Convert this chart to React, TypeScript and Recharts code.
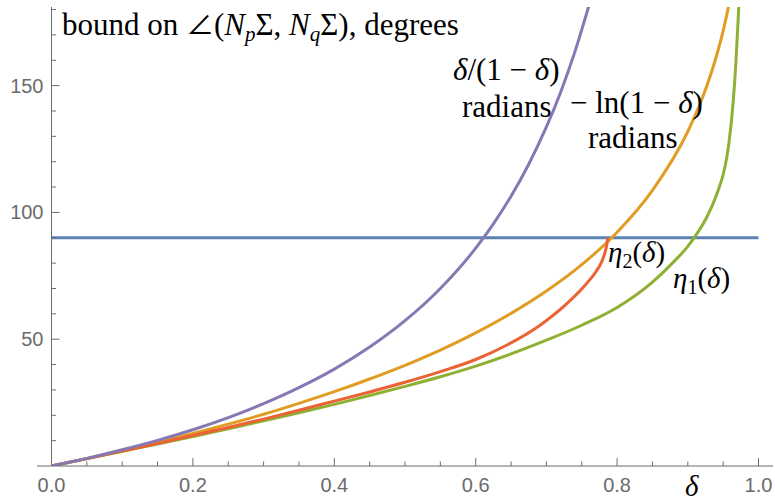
import { LineChart, Line, XAxis, YAxis, ReferenceLine } from "recharts";

// values (delta -> degrees)
const purpleX = [0, 0.05, 0.1, 0.15, 0.2, 0.25, 0.3, 0.35, 0.4, 0.45, 0.5, 0.55, 0.6, 0.625, 0.65, 0.675, 0.7, 0.72, 0.74, 0.76];
const purpleY = [0, 3.0, 6.4, 10.1, 14.3, 19.1, 24.6, 30.9, 38.2, 46.9, 57.3, 70.0, 85.9, 95.5, 106.4, 119.0, 133.7, 147.3, 163.1, 181.4];

const orangeX = [0, 0.05, 0.1, 0.15, 0.2, 0.25, 0.3, 0.35, 0.4, 0.45, 0.5, 0.55, 0.6, 0.65, 0.7, 0.75, 0.8, 0.85, 0.9, 0.92, 0.94, 0.95, 0.96];
const orangeY = [0, 2.9, 6.0, 9.3, 12.8, 16.5, 20.4, 24.7, 29.3, 34.3, 39.7, 45.7, 52.5, 60.2, 69.0, 79.4, 92.2, 108.7, 131.9, 144.7, 161.2, 171.6, 184.4];

const greenX = [0, 0.05, 0.1, 0.15, 0.2, 0.25, 0.3, 0.35, 0.4, 0.45, 0.5, 0.55, 0.6, 0.65, 0.7, 0.75, 0.8, 0.85, 0.88, 0.9, 0.915, 0.927, 0.94, 0.9526, 0.958, 0.9643, 0.968, 0.9717, 0.975];
const greenY = [0, 2.9, 5.8, 8.7, 11.6, 14.7, 17.8, 21.0, 24.3, 27.8, 31.4, 35.2, 39.4, 44.2, 49.6, 55.5, 62.5, 72.5, 80.5, 86.6, 92.5, 98.2, 106.5, 118, 127, 144, 159, 179, 198];

const redX = [0, 0.05, 0.1, 0.15, 0.2, 0.25, 0.3, 0.35, 0.4, 0.45, 0.5, 0.55, 0.6, 0.645, 0.69, 0.73, 0.755, 0.77, 0.778, 0.782, 0.785, 0.787];
const redY = [0, 2.9, 5.9, 8.9, 12.0, 15.2, 18.5, 22.0, 25.6, 29.2, 33.0, 37.2, 42.0, 47.8, 55.3, 64.3, 71.4, 76.6, 80.4, 83.4, 86.6, 90.0];

const blueX = [0, 1];
const blueY = [90, 90];

const xTicks = [0, 0.05, 0.1, 0.15, 0.2, 0.25, 0.3, 0.35, 0.4, 0.45, 0.5, 0.55, 0.6, 0.65, 0.7, 0.75, 0.8, 0.85, 0.9, 0.95, 1.0];
const yTicks = [10, 20, 30, 40, 50, 60, 70, 80, 90, 100, 110, 120, 130, 140, 150, 160, 170, 180];

const zip = (xs: number[], ys: number[]) => xs.map((x, i) => ({ x, y: ys[i] }));

const AXIS = "#6b6b6b";
const SANS = "'Liberation Sans', Arial, sans-serif";
const SERIF = "'Liberation Serif', 'Times New Roman', serif";

const XTick = ({ x, y, payload }: any) => {
  const v = payload.value as number;
  const major = Math.abs(v * 5 - Math.round(v * 5)) < 1e-6;
  return (
    <g>
      <line x1={x} y1={y} x2={x} y2={y - (major ? 8 : 4.5)} stroke={AXIS} />
      {major && (
        <text x={x} y={y + 26} textAnchor="middle" fill={AXIS} fontSize={20} fontFamily={SANS}>
          {v.toFixed(1)}
        </text>
      )}
    </g>
  );
};

const YTick = ({ x, y, payload }: any) => {
  const v = payload.value as number;
  const major = v % 50 === 0;
  return (
    <g>
      <line x1={x} y1={y} x2={x + (major ? 8 : 4.5)} y2={y} stroke={AXIS} />
      {major && (
        <text x={x - 8} y={y + 7} textAnchor="end" fill={AXIS} fontSize={20} fontFamily={SANS}>
          {v}
        </text>
      )}
    </g>
  );
};

export default function App() {
  return (
    <div style={{ position: "absolute", left: 0, top: 0, width: 775, height: 504, background: "#fff" }}>
      <LineChart width={775} height={504} margin={{ top: 7, right: 2, left: 0, bottom: 0 }}>
        <XAxis
          type="number"
          dataKey="x"
          domain={[0, 1.0205]}
          ticks={xTicks}
          interval={0}
          height={38}
          tickSize={0}
          tickMargin={0}
          tickLine={false}
          axisLine={{ stroke: AXIS }}
          tick={<XTick />}
        />
        <YAxis
          type="number"
          dataKey="y"
          domain={[0, 181]}
          allowDataOverflow
          ticks={yTicks}
          interval={0}
          width={51.5}
          tickSize={0}
          tickMargin={0}
          tickLine={false}
          axisLine={{ stroke: AXIS }}
          tick={<YTick />}
        />
        <ReferenceLine
          segment={[{ x: -0.0205, y: 0 }, { x: 0, y: 0 }]}
          stroke={AXIS}
          ifOverflow="visible"
        />
        <Line data={zip(blueX, blueY)} dataKey="y" stroke="#5E81B5" strokeWidth={3} dot={false} activeDot={false} isAnimationActive={false} />
        <Line data={zip(orangeX, orangeY)} dataKey="y" type="monotone" stroke="#E19C24" strokeWidth={3} dot={false} activeDot={false} isAnimationActive={false} />
        <Line data={zip(greenX, greenY)} dataKey="y" type="monotone" stroke="#8FB032" strokeWidth={3} dot={false} activeDot={false} isAnimationActive={false} />
        <Line data={zip(redX, redY)} dataKey="y" type="monotone" stroke="#EB6235" strokeWidth={3} dot={false} activeDot={false} isAnimationActive={false} />
        <Line data={zip(purpleX, purpleY)} dataKey="y" type="monotone" stroke="#8778B3" strokeWidth={3} dot={false} activeDot={false} isAnimationActive={false} />
      </LineChart>
      <svg width={775} height={504} style={{ position: "absolute", left: 0, top: 0, pointerEvents: "none" }} fontFamily={SERIF} fill="#000">
        <text x={62} y={35} fontSize={31}>
          bound on <tspan fontFamily="'Noto Sans CJK JP', 'DejaVu Serif', serif" fontSize={28}>∠</tspan>(<tspan fontStyle="italic">N</tspan>
          <tspan fontSize={21} dy={6} fontStyle="italic">p</tspan>
          <tspan dy={-6}>Σ, </tspan>
          <tspan fontStyle="italic">N</tspan>
          <tspan fontSize={21} dy={6} fontStyle="italic">q</tspan>
          <tspan dy={-6}>Σ), degrees</tspan>
        </text>
        <text x={453} y={80} fontSize={31}>
          <tspan fontStyle="italic">δ</tspan>/(1 − <tspan fontStyle="italic">δ</tspan>)
        </text>
        <text x={462} y={117} fontSize={31}>radians</text>
        <text x={570} y={113} fontSize={31}>
          − ln(1 − <tspan fontStyle="italic">δ</tspan>)
        </text>
        <text x={588} y={148} fontSize={31}>radians</text>
        <text x={608} y={262} fontSize={29}>
          <tspan fontStyle="italic">η</tspan>
          <tspan fontSize={20} dy={6}>2</tspan>
          <tspan dy={-6}>(</tspan>
          <tspan fontStyle="italic">δ</tspan>)
        </text>
        <text x={673} y={288} fontSize={29}>
          <tspan fontStyle="italic">η</tspan>
          <tspan fontSize={20} dy={6}>1</tspan>
          <tspan dy={-6}>(</tspan>
          <tspan fontStyle="italic">δ</tspan>)
        </text>
        <text x={685} y={496} fontSize={29} fontStyle="italic">δ</text>
      </svg>
    </div>
  );
}
